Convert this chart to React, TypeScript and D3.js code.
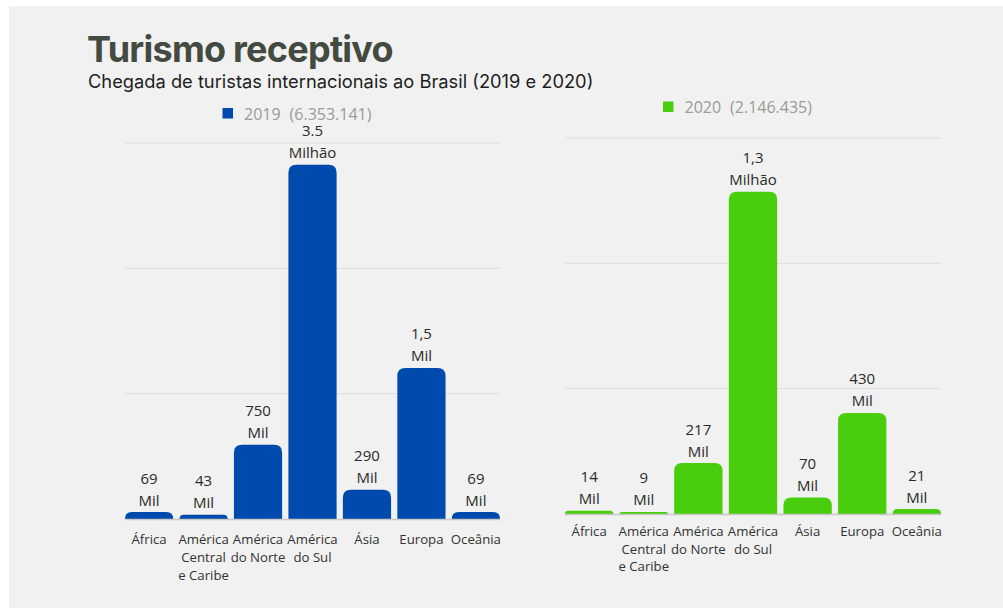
import React, { useEffect, useRef } from 'react';
import * as d3 from 'd3';

const width = 1003;
const height = 608;

const categories = [
  'África',
  'América\nCentral\ne Caribe',
  'América\ndo Norte',
  'América\ndo Sul',
  'Ásia',
  'Europa',
  'Oceânia',
];

// values
const values2019 = [69000, 43000, 741000, 3533000, 292000, 1506000, 69000];
const labels2019 = ['69\nMil', '43\nMil', '750\nMil', '3.5\nMilhão', '290\nMil', '1,5\nMil', '69\nMil'];

const values2020 = [14000, 9000, 217000, 1371000, 70000, 430000, 21000];
const labels2020 = ['14\nMil', '9\nMil', '217\nMil', '1,3\nMilhão', '70\nMil', '430\nMil', '21\nMil'];

const series = [
  { year: '2019', total: '(6.353.141)', color: '#004aad', values: values2019, labels: labels2019, max: 3750000, left: 125, right: 500, top: 143, bottom: 519, legendY: 119.5, catY: 25.3 },
  { year: '2020', total: '(2.146.435)', color: '#48ce0c', values: values2020, labels: labels2020, max: 1600000, left: 565, right: 941, top: 138, bottom: 514, legendY: 113, catY: 21.7 },
];

const labelFont = '"Open Sans", "Noto Sans", sans-serif';

// bar with rounded top corners only
function barPath(x, y, w, h, r) {
  r = Math.min(r, h, w / 2);
  return `M${x},${y + h}V${y + r}Q${x},${y} ${x + r},${y}H${x + w - r}Q${x + w},${y} ${x + w},${y + r}V${y + h}Z`;
}

function drawChart(svg, s) {
  const x = d3.scaleBand()
    .domain(categories)
    .range([s.left, s.right])
    .paddingInner(0.115)
    .paddingOuter(0);

  const y = d3.scaleLinear()
    .domain([0, s.max])
    .range([s.bottom, s.top]);

  const g = svg.append('g');

  // grid
  const gridTicks = d3.range(1, 4).map(i => (s.max * i) / 3);
  g.selectAll('line.grid')
    .data(gridTicks)
    .enter().append('line')
    .attr('class', 'grid')
    .attr('x1', s.left)
    .attr('x2', s.right)
    .attr('y1', d => y(d))
    .attr('y2', d => y(d))
    .attr('stroke', '#dddddd')
    .attr('stroke-width', 1);

  // bars
  g.selectAll('path.bar')
    .data(s.values)
    .enter().append('path')
    .attr('class', 'bar')
    .attr('fill', s.color)
    .attr('d', (d, i) => barPath(x(categories[i]), y(d), x.bandwidth(), y(0) - y(d), 8));

  // baseline
  g.append('line')
    .attr('x1', s.left)
    .attr('x2', s.right)
    .attr('y1', y(0) + 0.5)
    .attr('y2', y(0) + 0.5)
    .attr('stroke', '#c8c8c8')
    .attr('stroke-width', 1.5);

  // value labels
  g.selectAll('text.value')
    .data(s.labels)
    .enter().append('text')
    .attr('class', 'value')
    .attr('text-anchor', 'middle')
    .attr('font-family', labelFont)
    .attr('font-size', 15)
    .attr('fill', '#2b2b2b')
    .each(function (d, i) {
      const lines = d.split('\n');
      const cx = x(categories[i]) + x.bandwidth() / 2;
      const base = y(s.values[i]) - 6.5;
      d3.select(this).selectAll('tspan')
        .data(lines)
        .enter().append('tspan')
        .attr('x', cx)
        .attr('y', (l, j) => base - (lines.length - 1 - j) * 22)
        .text(l => l);
    });

  // category labels
  g.selectAll('text.cat')
    .data(categories)
    .enter().append('text')
    .attr('class', 'cat')
    .attr('text-anchor', 'middle')
    .attr('font-family', labelFont)
    .attr('font-size', 13.2)
    .attr('fill', '#333')
    .each(function (d) {
      const cx = x(d) + x.bandwidth() / 2;
      d3.select(this).selectAll('tspan')
        .data(d.split('\n'))
        .enter().append('tspan')
        .attr('x', cx)
        .attr('y', (l, j) => s.bottom + s.catY + j * 17.8)
        .text(l => l);
    });

  // legend
  const lx = (s.left + s.right) / 2 - 90;
  g.append('rect')
    .attr('x', lx)
    .attr('y', s.legendY - 11.5)
    .attr('width', 10.5)
    .attr('height', 10.5)
    .attr('fill', s.color);
  const lt = g.append('text')
    .attr('x', lx + 21.5)
    .attr('y', s.legendY)
    .attr('font-family', labelFont)
    .attr('font-size', 16)
    .attr('fill', '#9a9a9a');
  lt.append('tspan').text(s.year);
  lt.append('tspan').attr('dx', 9).text(s.total);
}

export default function App() {
  const ref = useRef(null);

  useEffect(() => {
    const svg = d3.select(ref.current);
    svg.selectAll('*').remove();

    svg.append('rect')
      .attr('x', 9)
      .attr('y', 6)
      .attr('width', width - 9)
      .attr('height', height - 6)
      .attr('fill', '#f0f1f0');

    svg.append('text')
      .attr('x', 87)
      .attr('y', 62)
      .attr('font-family', 'Inter, sans-serif')
      .attr('font-weight', 700)
      .attr('font-size', 36)
      .attr('letter-spacing', -0.75)
      .attr('fill', '#434a3f')
      .text('Turismo receptivo');

    svg.append('text')
      .attr('x', 88)
      .attr('y', 88)
      .attr('font-family', 'Inter, sans-serif')
      .attr('font-size', 18.3)
      .attr('fill', '#1e1e1e')
      .text('Chegada de turistas internacionais ao Brasil (2019 e 2020)');

    series.forEach(s => drawChart(svg, s));
  }, []);

  return (
    <svg
      ref={ref}
      width={width}
      height={height}
      style={{ position: 'absolute', left: 0, top: 0, background: '#fff' }}
    />
  );
}
